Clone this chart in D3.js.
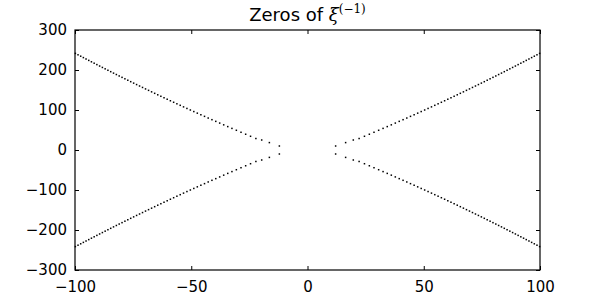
<!DOCTYPE html>
<html>
<head>
<meta charset="utf-8">
<script src="https://cdn.jsdelivr.net/npm/d3@7"></script>
<style>
  html, body { margin: 0; padding: 0; background: #fff; }
  svg { display: block; }
</style>
</head>
<body>
<svg id="chart" width="600" height="300"></svg>
<script>
// ---- data ----
const titleMain = "Zeros of ";
const titleSym = "ξ";
const titleSup = "(−1)";
const xTicks = [-100, -50, 0, 50, 100];
const yTicks = [-300, -200, -100, 0, 100, 200, 300];
// one branch of zeros (upper-right quadrant): real and imaginary parts
const zeroRe = [12.1, 16.4, 19.7, 22.2, 24.5, 26.6, 28.6, 30.6, 32.5, 34.3,
  36.05, 37.77, 39.45, 41.1, 42.71, 44.3, 45.86, 47.39, 48.9, 50.39,
  51.86, 53.32, 54.75, 56.17, 57.58, 58.97, 60.35, 61.71, 63.07, 64.41,
  65.74, 67.06, 68.37, 69.67, 70.96, 72.24, 73.51, 74.78, 76.04, 77.29,
  78.53, 79.77, 80.99, 82.21, 83.43, 84.64, 85.84, 87.03, 88.22, 89.41,
  90.59, 91.76, 92.93, 94.09, 95.25, 96.4, 97.55, 98.7, 99.84];
const zeroIm = [10.0, 18.5, 25.0, 28.7, 34.3, 39.4, 44.3, 49.3, 54.0, 58.5,
  62.9, 67.3, 71.6, 75.8, 79.9, 84.1, 88.1, 92.1, 96.1, 100.0,
  103.9, 107.8, 111.7, 115.5, 119.3, 123.1, 126.9, 130.6, 134.3, 138.0,
  141.7, 145.4, 149.1, 152.7, 156.4, 160.0, 163.6, 167.2, 170.8, 174.4,
  178.0, 181.6, 185.1, 188.7, 192.2, 195.8, 199.3, 202.9, 206.4, 209.9,
  213.5, 217.0, 220.5, 224.0, 227.5, 231.0, 234.5, 238.0, 241.5];
// the zeros are symmetric: mirror the branch into the four quadrants
const mirrors = [[1, 1], [1, -1], [-1, 1], [-1, -1]];

// ---- layout ----
const svg = d3.select("#chart");
const L = 75, R = 540, T = 30, B = 270;
const font = "DejaVu Sans, sans-serif";

const x = d3.scaleLinear().domain([-100, 100]).range([L, R]);
const y = d3.scaleLinear().domain([-300, 300]).range([B, T]);

const pts = [];
mirrors.forEach(([sx, sy]) => {
  zeroRe.forEach((re, i) => pts.push([sx * re, sy * zeroIm[i]]));
});

// points
svg.append("g").selectAll("rect").data(pts).join("rect")
  .attr("x", d => x(d[0]) - 0.75)
  .attr("y", d => y(d[1]) - 0.75)
  .attr("width", 1.5).attr("height", 1.5)
  .attr("fill", "#000");

// axes (ticks inward on all four sides)
const tickLen = 4;
const fmt = d3.format("d");
const gB = svg.append("g").attr("transform", `translate(0,${B})`)
  .call(d3.axisBottom(x).tickValues(xTicks).tickSizeInner(-tickLen).tickSizeOuter(0).tickPadding(8).tickFormat(fmt));
const gT = svg.append("g").attr("transform", `translate(0,${T})`)
  .call(d3.axisTop(x).tickValues(xTicks).tickSizeInner(-tickLen).tickSizeOuter(0).tickFormat(""));
const gL = svg.append("g").attr("transform", `translate(${L},0)`)
  .call(d3.axisLeft(y).tickValues(yTicks).tickSizeInner(-tickLen).tickSizeOuter(0).tickPadding(8).tickFormat(fmt));
const gR = svg.append("g").attr("transform", `translate(${R},0)`)
  .call(d3.axisRight(y).tickValues(yTicks).tickSizeInner(-tickLen).tickSizeOuter(0).tickFormat(""));
[gB, gT, gL, gR].forEach(g => {
  g.select(".domain").remove();
  g.selectAll(".tick line").attr("stroke", "#000").attr("stroke-width", 1);
  g.selectAll(".tick text").attr("font-family", font).attr("font-size", 15).attr("fill", "#000");
});
gB.selectAll(".tick text").attr("dy", "0.95em");

// frame
svg.append("rect").attr("x", L).attr("y", T).attr("width", R - L).attr("height", B - T)
  .attr("fill", "none").attr("stroke", "#000").attr("stroke-width", 1.2);

// title
const title = svg.append("text").attr("x", (L + R) / 2).attr("y", 21)
  .attr("text-anchor", "middle").attr("font-family", font).attr("font-size", 18).attr("fill", "#000");
title.append("tspan").text(titleMain);
title.append("tspan").attr("font-family", "DejaVu Serif, serif").attr("font-style", "italic").text(titleSym);
title.append("tspan").attr("font-family", "DejaVu Serif, serif").attr("font-size", 12).attr("dy", -8).text(titleSup);
</script>
</body>
</html>
